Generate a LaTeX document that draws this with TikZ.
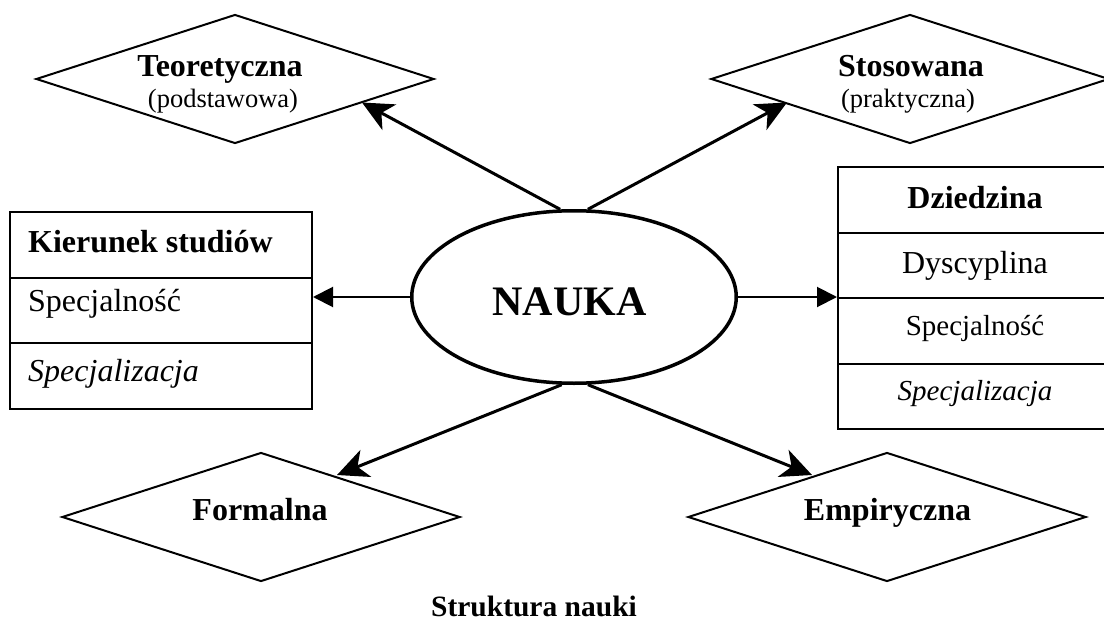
\documentclass[tikz,border=0pt]{standalone}
\usepackage{fontspec}
\setmainfont{Liberation Serif}
\usetikzlibrary{shapes.geometric,arrows.meta}
\begin{document}
\begin{tikzpicture}[x=1pt,y=-1pt,
  dia/.style={diamond, draw, line width=2pt, inner sep=0pt, minimum width=398pt, minimum height=129pt},
  ell/.style={ellipse, draw, line width=3.5pt, inner sep=0pt, minimum width=324.5pt, minimum height=172.5pt},
  cellL/.style={draw, line width=2pt, anchor=north west, inner sep=0pt, minimum width=302pt, minimum height=65.7pt},
  cellR/.style={draw, line width=2pt, anchor=north west, inner sep=0pt, minimum width=276pt, minimum height=65.5pt},
  big/.style={inner sep=0pt, font=\fontsize{32}{38}\selectfont\bfseries},
  norm/.style={inner sep=0pt, font=\fontsize{32}{38}\selectfont},
  small/.style={inner sep=0pt, font=\fontsize{26.5}{31}\selectfont},
  mid/.style={inner sep=0pt, font=\fontsize{29}{34}\selectfont},
  diag/.style={line width=3pt, -{Stealth[length=31pt, width=29pt, inset=9pt]}},
  horiz/.style={line width=2pt, -{Triangle[length=20pt, width=20pt]}}
]
\useasboundingbox (0,0) rectangle (1104,621);
\clip (0,0) rectangle (1104,621);

% central ellipse
\node[ell] (nauka) at (574,297) {};
\node[inner sep=0pt, anchor=base, font=\fontsize{42}{50}\selectfont\bfseries] (naukaT) at (569.5,315) {NAUKA};

% diamonds
\node[dia] (teo) at (235,79) {};
\node[big, anchor=base] (teoT) at (220,76) {Teoretyczna};
\node[small, anchor=base] (teoS) at (223,107) {(podstawowa)};

\node[dia] (sto) at (910,79) {};
\node[big, anchor=base] (stoT) at (911,76) {Stosowana};
\node[small, anchor=base] (stoS) at (908,107) {(praktyczna)};

\node[dia] (for) at (261,517) {};
\node[big, anchor=base] (forT) at (260,520) {Formalna};

\node[dia] (emp) at (887,517) {};
\node[big, anchor=base] (empT) at (887.5,520) {Empiryczna};

% left box
\node[cellL] (kier) at (9,211) {};
\node[cellL] (kspec) at (9,276.7) {};
\node[cellL] (kspz) at (9,342.3) {};
\node[big, anchor=base west] (kierT) at (28,252.5) {Kierunek studiów};
\node[norm, anchor=base west] (kspecT) at (28,311.7) {Specjalność};
\node[norm, anchor=base west, font=\fontsize{32}{38}\selectfont\itshape] (kspzT) at (28,381) {Specjalizacja};

% right box
\node[cellR] (dzi) at (837,166) {};
\node[cellR] (dys) at (837,231.5) {};
\node[cellR] (rspec) at (837,297) {};
\node[cellR] (rspz) at (837,362.5) {};
\node[big, anchor=base] (dziT) at (975,208.3) {Dziedzina};
\node[norm, anchor=base] (dysT) at (975,273) {Dyscyplina};
\node[mid, anchor=base] (rspecT) at (975,335) {Specjalność};
\node[mid, anchor=base, font=\fontsize{29}{34}\selectfont\itshape] (rspzT) at (975,400) {Specjalizacja};

% title
\node[inner sep=0pt, anchor=base, font=\fontsize{29.5}{35}\selectfont\bfseries] (title) at (534,616) {Struktura nauki};

% arrow end points on diamond borders
\coordinate (tipT) at (362,102.5);
\coordinate (tipS) at (787,102.5);
\coordinate (tipF) at (337,475);
\coordinate (tipE) at (812,475);

% connectors
\draw[diag] (nauka.99) -- (tipT);
\draw[diag] (nauka.81) -- (tipS);
\draw[diag] (nauka.262) -- (tipF);
\draw[diag] (nauka.279) -- (tipE);
\draw[horiz] (nauka.west) -- (nauka.west -| kspec.east);
\draw[horiz] (nauka.east) -- (nauka.east -| dys.south west);
\end{tikzpicture}
\end{document}
